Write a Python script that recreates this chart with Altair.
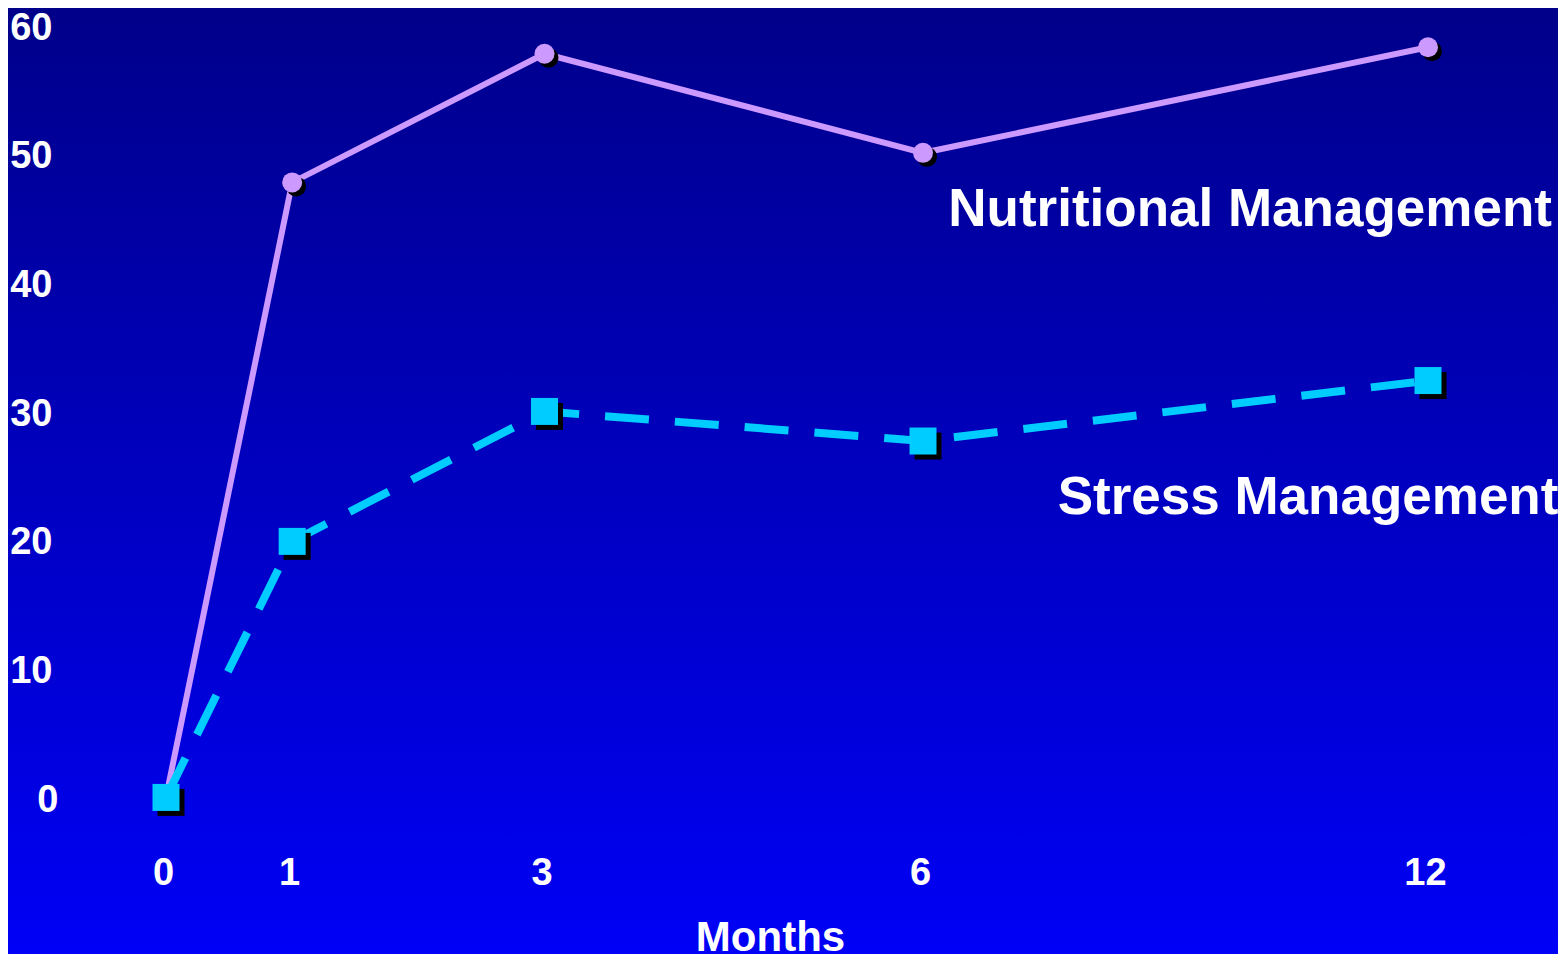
import altair as alt
import pandas as pd

# ---- data ----
months = [0, 1, 3, 6, 12]
nutritional = [0.2, 48.0, 58.0, 50.3, 58.5]
stress = [0.2, 20.1, 30.2, 27.9, 32.6]
y_ticks = [0, 10, 20, 30, 40, 50, 60]

label_names = ["Nutritional Management", "Stress Management"]
label_month = [6.3, 7.6]
label_value = [44.6, 22.2]

W, H = 1550, 946
FONT = "Liberation Sans"

df_n = pd.DataFrame({"month": months, "value": nutritional})
df_s = pd.DataFrame({"month": months, "value": stress})
df_lab = pd.DataFrame({"label": label_names, "month": label_month, "value": label_value})

xs = alt.Scale(domain=[0, 6, 12], range=[158, 915, 1420], clamp=False)
ys = alt.Scale(domain=[0, 60], range=[792, 20], nice=False, zero=False)

x_enc = alt.X("month:Q", scale=xs,
              axis=alt.Axis(values=months, format="d", title="Months", orient="bottom",
                            offset=-81, labelPadding=0, labelBaseline="middle",
                            labelOffset=-3, labelFlush=False, zindex=2,
                            titleX=762, titleY=64, titleBaseline="middle",
                            titleAlign="center", titleFontSize=42,
                            titleFont=FONT, titleFontWeight="bold",
                            titleColor="white"))
y_enc = alt.Y("value:Q", scale=ys,
              axis=alt.Axis(values=y_ticks, format="d", title=None, orient="left",
                            offset=-44,
                            labelPadding={"condition": {"test": "datum.value === 0", "value": -6},
                                          "value": 0},
                            labelAlign="right",
                            labelBaseline="middle", labelFlush=False, zindex=2))

bg = alt.Chart(alt.Data(values=[{}])).mark_rect(
    fill=alt.Gradient(gradient="linear",
                      stops=[alt.GradientStop(color="#00008A", offset=0),
                             alt.GradientStop(color="#0000F6", offset=1)],
                      x1=0, x2=0, y1=0, y2=1)
).encode(x=alt.value(0), x2=alt.value(W), y=alt.value(0), y2=alt.value(H))

base_n = alt.Chart(df_n).encode(x=x_enc, y=y_enc)
base_s = alt.Chart(df_s).encode(x=x_enc, y=y_enc)

n_line = base_n.mark_line(color="#CC99FF", strokeWidth=6)
n_shadow = base_n.mark_point(filled=True, shape="circle", size=400, color="black",
                             opacity=1, xOffset=4, yOffset=4)
n_pts = base_n.mark_point(filled=True, shape="circle", size=400, color="#CC99FF", opacity=1)

s_line = base_s.mark_line(color="#00CCFF", strokeWidth=8, strokeDash=[44, 26])
s_shadow = base_s.mark_point(filled=True, shape="square", size=729, color="black",
                             opacity=1, xOffset=5, yOffset=5)
s_pts = base_s.mark_point(filled=True, shape="square", size=729, color="#00CCFF", opacity=1)

labels = alt.Chart(df_lab).mark_text(
    font=FONT, fontWeight="bold", fontSize=53, color="white",
    align="left", baseline="alphabetic"
).encode(x=alt.X("month:Q", scale=xs), y=alt.Y("value:Q", scale=ys), text="label:N")

chart = alt.layer(bg, n_line, n_shadow, n_pts, s_line, s_shadow, s_pts, labels).properties(
    width=W, height=H, padding=0, autosize=alt.AutoSizeParams(type="none")
).configure(background="#0000C0").configure_view(stroke=None).configure_axis(
    domain=False, ticks=False, grid=False, labelColor="white", labelFont=FONT,
    labelFontWeight="bold", labelFontSize=38
)

chart.save("out.html", embed_options={"renderer": "svg", "actions": False})
